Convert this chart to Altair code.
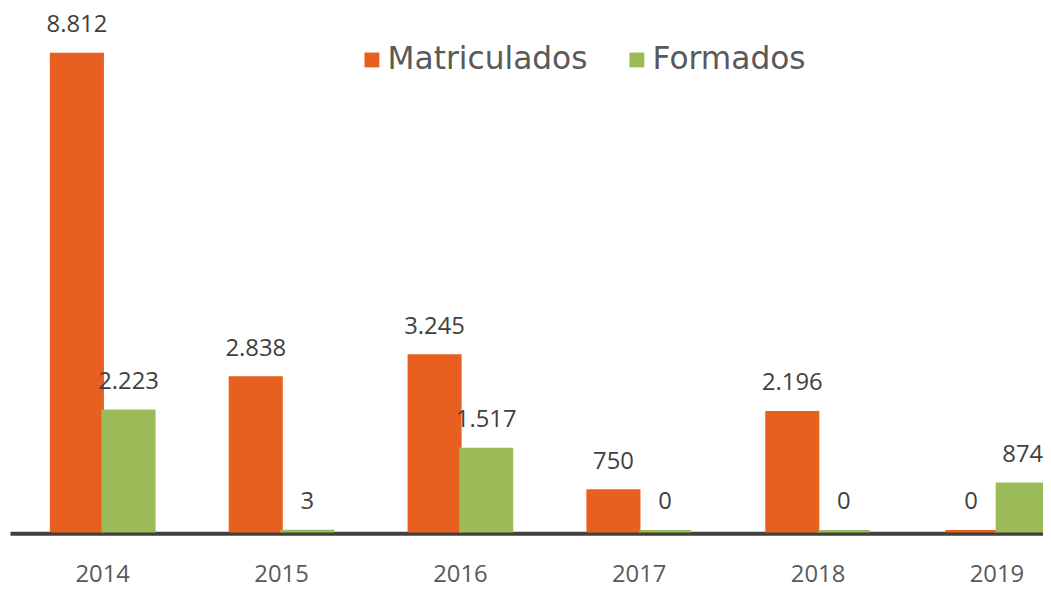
import altair as alt
import pandas as pd

years = ["2014", "2015", "2016", "2017", "2018", "2019"]
series = ["Matriculados", "Formados"]
matriculados = [8812, 2838, 3245, 750, 2196, 0]
formados = [2223, 3, 1517, 0, 0, 874]
colors = ["#E8601F", "#9BBB59"]

rows = []
for yr, m, f in zip(years, matriculados, formados):
    rows.append({"year": yr, "serie": "Matriculados", "value": m})
    rows.append({"year": yr, "serie": "Formados", "value": f})
df = pd.DataFrame(rows)
df["label"] = df["value"].map(lambda v: f"{v:,}".replace(",", "."))

x = alt.X(
    "year:N", sort=years, title=None,
    scale=alt.Scale(range=[2, 1090], paddingInner=0.423, paddingOuter=0.23),
    axis=alt.Axis(domainColor="#404040", domainWidth=4, ticks=False, tickSize=0,
                  labelFontSize=24, labelColor="#595959", labelFont="Open Sans",
                  labelPadding=30, offset=2, grid=False, labelAngle=0),
)
xo = alt.XOffset("serie:N", sort=series, scale=alt.Scale(paddingInner=0, paddingOuter=0))
y = alt.Y("value:Q", scale=alt.Scale(domain=[0, 9619], nice=False, zero=True), axis=None)
cscale = alt.Scale(domain=series, range=colors)

bars = alt.Chart(df).mark_bar(strokeWidth=2.5).encode(
    x=x, xOffset=xo, y=y,
    color=alt.Color("serie:N", scale=cscale, sort=series,
                    legend=alt.Legend(orient="none", legendX=351, legendY=34,
                                      direction="horizontal", title=None,
                                      symbolType="square", symbolSize=225,
                                      labelFontSize=31.5, labelFont="DejaVu Sans",
                                      labelColor="#595959", labelOffset=0,
                                      labelLimit=0,
                                      columnPadding=33, symbolStrokeWidth=0,
                                      padding=0)),
    stroke=alt.Stroke("serie:N", scale=cscale, legend=None),
)

labels = alt.Chart(df).mark_text(dy=-22, baseline="alphabetic", fontSize=24,
                                 font="Open Sans", color="#404040").encode(
    x=x, xOffset=xo, y=y, text="label:N"
)

chart = (bars + labels).properties(
    width=1043, height=525,
    autosize=alt.AutoSizeParams(type="none"),
    padding={"left": 0, "top": 0, "right": 0, "bottom": 56},
).configure_view(stroke=None)

chart.save("out.html", embed_options={"renderer": "svg", "actions": False})
